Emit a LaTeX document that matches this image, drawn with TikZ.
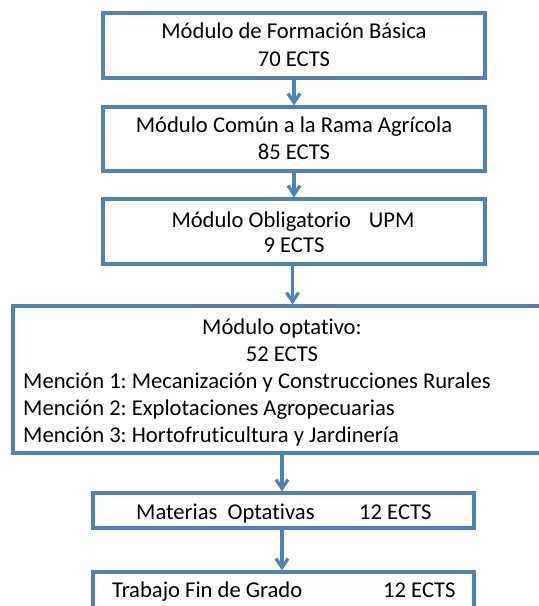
\documentclass[tikz,border=0pt]{standalone}
\usepackage{fontspec}
\setmainfont{Carlito}[Ligatures=NoCommon]
\usetikzlibrary{arrows.meta}
\definecolor{boxblue}{HTML}{4F81BD}
\frenchspacing
\begin{document}
\begin{tikzpicture}[x=1bp,y=-1bp,
  box/.style={draw=boxblue,line width=3.2bp,rectangle,inner sep=0pt},
  txt/.style={font=\fontsize{22.6bp}{27bp}\selectfont,inner sep=0pt,anchor=base,text=black},
  txtl/.style={txt,anchor=base west},
  arr/.style={draw=boxblue,line width=3.2bp,-{Straight Barb[length=9bp,width=12bp]}}]
\useasboundingbox (0,0) rectangle (539,606);
\clip (0,0) rectangle (539,606);
% boxes
\node[box,minimum width=382bp,minimum height=65bp] (b1) at (294,45.5) {};
\node[box,minimum width=382bp,minimum height=64bp] (b2) at (294,139) {};
\node[box,minimum width=382bp,minimum height=65bp] (b3) at (294,231.5) {};
\node[box,minimum width=540bp,minimum height=147bp] (b4) at (283,379.5) {};
\node[box,minimum width=381bp,minimum height=35bp] (b5) at (283.5,510.5) {};
\node[box,minimum width=381bp,minimum height=40bp] (b6) at (283.5,592) {};
% texts
\node[txt] (t1a) at (294,39) {Módulo de Formación Básica};
\node[txt] (t1b) at (294,67) {70 ECTS};
\node[txt] (t2a) at (294,133) {Módulo Común a la Rama Agrícola};
\node[txt] (t2b) at (294,160) {85 ECTS};
\node[txt] (t3a) at (293,227) {Módulo Obligatorio\hspace{18bp}UPM};
\node[txt] (t3b) at (294,252) {9 ECTS};
\node[txt] (t4a) at (282,334) {Módulo optativo:};
\node[txt] (t4b) at (282,361) {52 ECTS};
\node[txtl] (t4c) at (23,388) {Mención 1: Mecanización y Construcciones Rurales};
\node[txtl] (t4d) at (23,415) {Mención 2: Explotaciones Agropecuarias};
\node[txtl] (t4e) at (23,442) {Mención 3: Hortofruticultura y Jardinería};
\node[txtl] (t5) at (136,519) {\makebox[223bp][l]{Materias\ \ Optativas}12 ECTS};
\node[txtl] (t6) at (112,597) {\makebox[271bp][l]{Trabajo Fin de Grado}12 ECTS};
% arrows
\draw[arr] (b1.south) -- (b2.north);
\draw[arr] (b2.south) -- (b3.north);
\draw[arr] ([xshift=-1.5bp]b3.south) -- ([xshift=-1.5bp]b3.south |- b4.north);
\draw[arr] ([xshift=-1bp]b4.south) -- ([xshift=-1bp]b4.south |- b5.north);
\draw[arr] ([xshift=-1.5bp]b5.south) -- ([xshift=-1.5bp]b5.south |- b6.north);
\end{tikzpicture}
\end{document}
